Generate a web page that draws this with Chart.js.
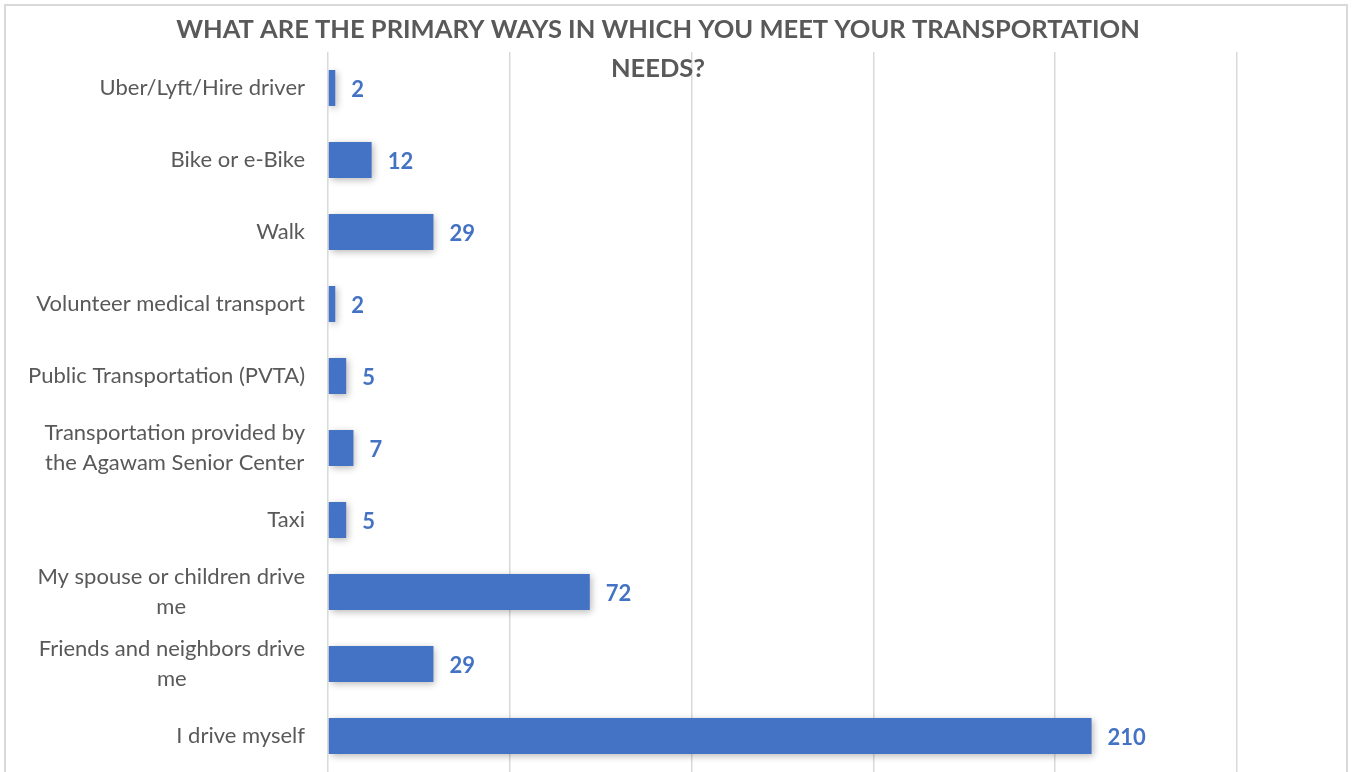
<!DOCTYPE html>
<html>
<head>
<meta charset="utf-8">
<script src="https://cdn.jsdelivr.net/npm/chart.js@4.4.1/dist/chart.umd.min.js"></script>
<style>
  html, body { margin: 0; padding: 0; background: #fff; }
  #frame { position: absolute; left: 4px; top: 4px; width: 1340px; height: 800px; border: 2px solid #d9d9d9; }
  #wrap  { position: absolute; left: 0; top: 0; width: 1352px; height: 772px; }
</style>
</head>
<body>
<div id="frame"></div>
<div id="wrap"><canvas id="chart" width="1352" height="772"></canvas></div>
<script>
const TITLE_LINES = ['WHAT ARE THE PRIMARY WAYS IN WHICH YOU MEET YOUR TRANSPORTATION', 'NEEDS?'];

const CATEGORIES = [
  'Uber/Lyft/Hire driver',
  'Bike or e-Bike',
  'Walk',
  'Volunteer medical transport',
  'Public Transportation (PVTA)',
  ['Transportation provided by', 'the Agawam Senior Center'],
  'Taxi',
  ['My spouse or children drive', 'me'],
  ['Friends and neighbors drive', 'me'],
  'I drive myself'
];

const COUNTS = [2, 12, 29, 2, 5, 7, 5, 72, 29, 210];

const X_MIN = 0;
const X_MAX = 250;
const X_STEP = 50;

const BAR_COLOR   = '#4472C4';
const TEXT_COLOR  = '#595959';
const GRID_COLOR  = '#d9d9d9';
const FONT_FAMILY = 'Lato, "Open Sans", sans-serif';

// title sits partly over the plot, so it is drawn by hand instead of by the title plugin
const titlePlugin = {
  id: 'overlapTitle',
  afterDraw(chart) {
    const ctx = chart.ctx;
    ctx.save();
    ctx.font = 'bold 25.5px ' + FONT_FAMILY;
    ctx.fillStyle = TEXT_COLOR;
    ctx.textAlign = 'center';
    ctx.textBaseline = 'middle';
    TITLE_LINES.forEach((line, i) => ctx.fillText(line, 658, 30 + i * 39));
    ctx.restore();
  }
};

// category labels: block right-aligned to the axis, wrapped lines centred inside the block
const categoryLabels = {
  id: 'categoryLabels',
  afterDraw(chart) {
    const ctx = chart.ctx;
    const yScale = chart.scales.y;
    const right = yScale.right - 23;
    const lineH = 30;
    ctx.save();
    ctx.font = '22px ' + FONT_FAMILY;
    ctx.fillStyle = TEXT_COLOR;
    ctx.textAlign = 'center';
    ctx.textBaseline = 'middle';
    CATEGORIES.forEach((label, i) => {
      const lines = Array.isArray(label) ? label : [label];
      const w = Math.max(...lines.map(l => ctx.measureText(l).width));
      const cx = right - w / 2;
      const cy = yScale.getPixelForTick(i);
      lines.forEach((l, j) => {
        ctx.fillText(l, cx, cy + (j - (lines.length - 1) / 2) * lineH);
      });
    });
    ctx.restore();
  }
};

// soft drop shadow under the bars
const shadowPlugin = {
  id: 'barShadow',
  beforeDatasetsDraw(chart) {
    const ctx = chart.ctx;
    ctx.save();
    ctx.shadowColor = 'rgba(0,0,0,0.28)';
    ctx.shadowBlur = 7;
    ctx.shadowOffsetX = 2;
    ctx.shadowOffsetY = 2;
  },
  afterDatasetsDraw(chart) {
    chart.ctx.restore();
  }
};

// value labels at the end of each bar
const valueLabels = {
  id: 'valueLabels',
  afterDraw(chart) {
    const ctx = chart.ctx;
    const meta = chart.getDatasetMeta(0);
    ctx.save();
    ctx.font = 'bold 22px ' + FONT_FAMILY;
    ctx.fillStyle = BAR_COLOR;
    ctx.textAlign = 'left';
    ctx.textBaseline = 'middle';
    meta.data.forEach((bar, i) => {
      ctx.fillText(String(COUNTS[i]), bar.x + 16, bar.y + 2);
    });
    ctx.restore();
  }
};

const ctx = document.getElementById('chart').getContext('2d');
new Chart(ctx, {
  type: 'bar',
  data: {
    labels: CATEGORIES,
    datasets: [{
      data: COUNTS,
      backgroundColor: BAR_COLOR,
      borderWidth: 0,
      barPercentage: 0.5,
      categoryPercentage: 1.0
    }]
  },
  options: {
    indexAxis: 'y',
    responsive: false,
    animation: false,
    layout: { padding: { left: 0, right: 115, top: 52, bottom: 0 } },
    plugins: {
      legend: { display: false },
      tooltip: { enabled: false },
      title: { display: false }
    },
    scales: {
      x: {
        min: X_MIN,
        max: X_MAX,
        ticks: { stepSize: X_STEP, display: false },
        grid:  { color: GRID_COLOR, lineWidth: 1.5, drawTicks: false },
        border: { display: false }
      },
      y: {
        grid:  { display: false, drawTicks: false },
        border: { display: false },
        ticks: { display: false },
        afterFit(scale) {
          scale.width = 328;
          scale.paddingTop = 0;
          scale.paddingBottom = 0;
        }
      }
    }
  },
  plugins: [shadowPlugin, valueLabels, categoryLabels, titlePlugin]
});
</script>
</body>
</html>
